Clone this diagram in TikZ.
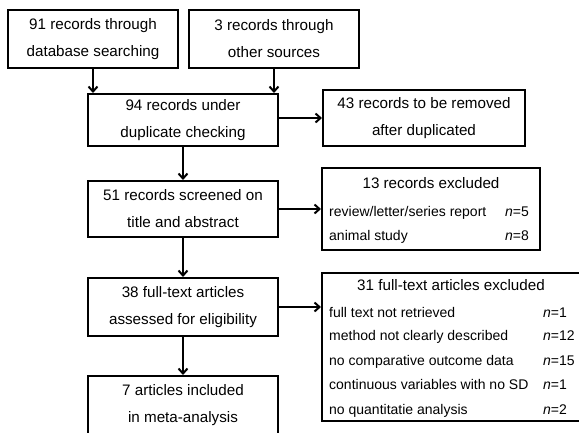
\documentclass[tikz,border=0pt]{standalone}
\usepackage{fontspec}
\setmainfont{Liberation Sans}
\usetikzlibrary{arrows.meta}

\begin{document}
\begin{tikzpicture}[x=1pt,y=-1pt]
    \tikzstyle{box} = [draw, line width=2pt, align=center, inner sep=0pt, font=\fontsize{15.2}{27}\selectfont]
    \tikzstyle{item} = [anchor=base west, inner sep=0pt, font=\fontsize{14}{16}\selectfont]
    \tikzstyle{arr} = [line width=2pt, -{Straight Barb[length=5pt,width=9pt]}]
    \useasboundingbox (0,0) rectangle (579,432);

    \node[box, minimum width=170pt, minimum height=58pt] (rec91) at (93,39) {91 records through\\database searching};
    \node[box, minimum width=170pt, minimum height=58pt] (rec3) at (274,39) {3 records through\\other sources};
    \node[box, minimum width=190pt, minimum height=52pt] (dup) at (183,120) {94 records under\\duplicate checking};
    \node[box, minimum width=202pt, minimum height=56pt] (removed) at (424,118) {43 records to be removed\\after duplicated};
    \node[box, minimum width=190pt, minimum height=56pt] (screen) at (183,209) {51 records screened on\\title and abstract};
    \node[box, minimum width=218pt, minimum height=82pt] (excl13) at (431,209) {};
    \node[box, minimum width=190pt, minimum height=58pt] (full) at (183,307) {38 full-text articles\\assessed for eligibility};
    \node[box, minimum width=260pt, minimum height=148pt] (excl31) at (452,347) {};
    \node[box, minimum width=190pt, minimum height=58pt] (incl) at (183,405) {7 articles included\\in meta-analysis};

    % 13 records excluded
    \node[box, draw=none] (t13) at (excl13.center |- 0,183) {13 records excluded};
    \node[item] (r13a) at (329,216) {review/letter/series report};
    \node[item] (r13b) at (329,240) {animal study};
    \node[item] (n13a) at (505,216) {\textit{n}=5};
    \node[item] (n13b) at (505,240) {\textit{n}=8};

    % 31 full-text articles excluded
    \node[box, draw=none] (t31) at (451,285) {31 full-text articles excluded};
    \node[item] (r31a) at (329,317) {full text not retrieved};
    \node[item] (r31b) at (329,340.5) {method not clearly described};
    \node[item] (r31c) at (329,365) {no comparative outcome data};
    \node[item] (r31d) at (329,389) {continuous variables with no SD};
    \node[item] (r31e) at (329,414) {no quantitatie analysis};
    \node[item] (n31a) at (543,317) {\textit{n}=1};
    \node[item] (n31b) at (543,340.5) {\textit{n}=12};
    \node[item] (n31c) at (543,365) {\textit{n}=15};
    \node[item] (n31d) at (543,389) {\textit{n}=1};
    \node[item] (n31e) at (543,414) {\textit{n}=2};

    \draw[arr] (rec91.south) -- (rec91.south |- dup.north);
    \draw[arr] (rec3.south) -- (rec3.south |- dup.north);
    \draw[arr] ([yshift=2pt]dup.east) -- ([yshift=2pt]dup.east -| removed.west);
    \draw[arr] (dup.south) -- (screen.north);
    \draw[arr] (screen.east) -- (excl13.west);
    \draw[arr] (screen.south) -- (full.north);
    \draw[arr] (full.east) -- (full.east -| excl31.west);
    \draw[arr] (full.south) -- (incl.north);
\end{tikzpicture}
\end{document}
